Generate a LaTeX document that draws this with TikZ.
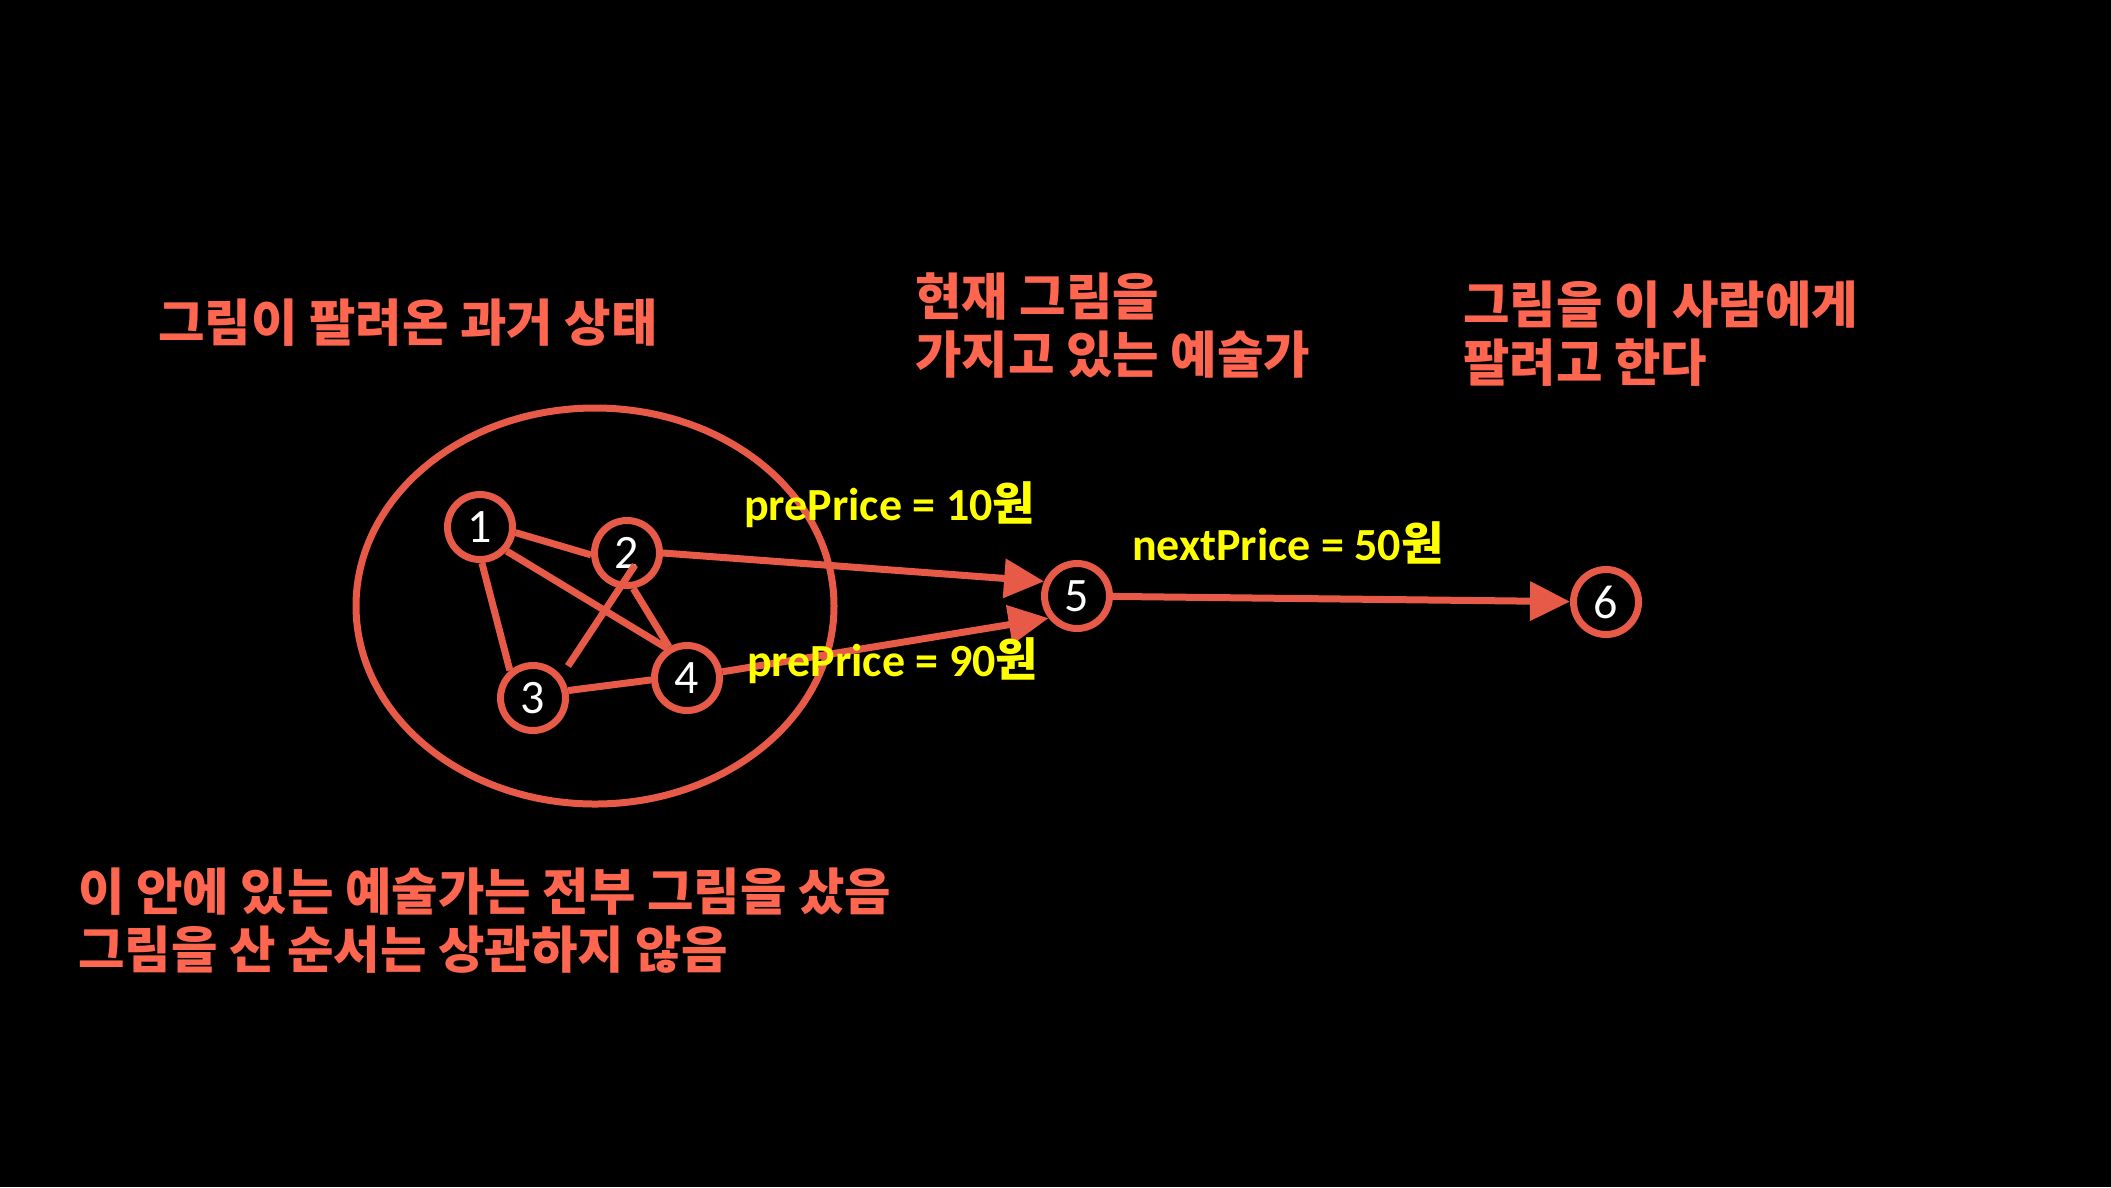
\documentclass[tikz,border=0pt]{standalone}
\usepackage{fontspec}
\setmainfont{Carlito}
\newfontfamily\kr{Noto Sans CJK KR}
\usetikzlibrary{arrows.meta}
\definecolor{lred}{HTML}{E85A48}
\definecolor{tred}{HTML}{FF6650}
\definecolor{yel}{HTML}{FFFF00}
\begin{document}
\begin{tikzpicture}[x=1pt,y=-1pt,
  vnode/.style={circle,draw=lred,line width=7pt,fill=black,minimum size=65pt,inner sep=0pt,text=white,font=\fontsize{48}{48}\selectfont},
  edge/.style={draw=lred,line width=7pt},
  arr/.style={edge,-{Triangle[length=40pt,width=38pt]}},
  krtext/.style={text=tred,font=\kr\bfseries\fontsize{50.5}{58}\selectfont,anchor=west,align=left,inner sep=0pt},
  lab/.style={text=yel,font=\bfseries\fontsize{46}{46}\selectfont,anchor=west,inner sep=0pt}]
\fill[black] (0,0) rectangle (2111,1187);
\useasboundingbox (0,0) rectangle (2111,1187);
% group ellipse
\draw[edge] (595,606) ellipse [x radius=239pt, y radius=198pt];
% nodes
\node[vnode] (n1) at (480,527) {1};
\node[vnode] (n2) at (627,553) {2};
\node[vnode] (n3) at (533,698) {3};
\node[vnode] (n4) at (687,678) {4};
\node[vnode] (n5) at (1077,596) {5};
\node[vnode] (n6) at (1606,602) {6};
% edges inside
\draw[edge] (n1.-9) -- (n2.183);
\draw[edge] (n1.-87) -- (n3.130);
\draw[edge] (n1.-42) -- (n4.124);
\draw[edge] (n2.-80) -- (n4.120);
\draw[edge] (n3.12) -- (n4.183);
\coordinate (s3) at (568,666);
\coordinate (s2) at (635,565);
\draw[edge] (s3) -- (s2);
% arrows
\draw[arr] (n2.east) -- (n5.156);
\draw[arr] (n4.10) -- (n5.218);
\draw[arr] (n5) -- (n6);
% labels
\node[lab] (l1) at (744,505) {prePrice = 10{\kr 원}};
\node[lab] (l2) at (747,661) {prePrice = 90{\kr 원}};
\node[lab] (l3) at (1132,543) {nextPrice = 50{\kr 원}};
% Korean texts
\node[krtext] (t1) at (158,323) {그림이 팔려온 과거 상태};
\node[krtext] (t2) at (915,326) {현재 그림을\\가지고 있는 예술가};
\node[krtext] (t3) at (1463,334) {그림을 이 사람에게\\팔려고 한다};
\node[krtext] (t4) at (78,921) {이 안에 있는 예술가는 전부 그림을 샀음\\그림을 산 순서는 상관하지 않음};
\end{tikzpicture}
\end{document}
